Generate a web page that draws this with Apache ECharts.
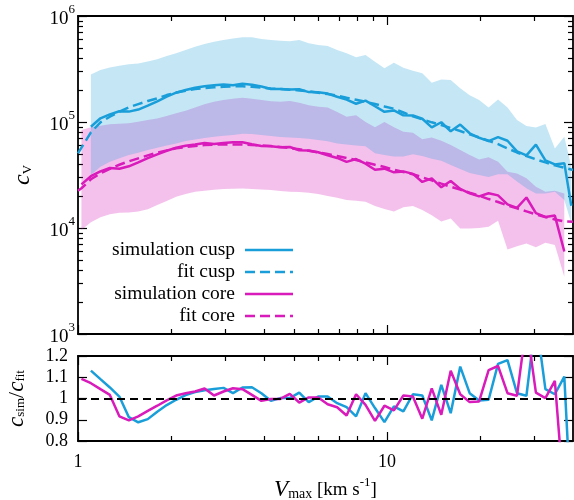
<!DOCTYPE html>
<html>
<head>
<meta charset="utf-8">
<script src="https://cdn.jsdelivr.net/npm/echarts@6/dist/echarts.min.js"></script>
<style>
  html, body { margin: 0; padding: 0; background: #fff; }
  #chart { width: 574px; height: 500px; }
</style>
</head>
<body>
<div id="chart"></div>
<script>
// bin centres in Vmax [km/s]
const vmaxBins = [1.026,1.101,1.182,1.268,1.361,1.461,1.567,1.682,1.805,1.937,2.078,2.230,2.393,2.568,2.756,2.958,3.174,3.406,3.655,3.922,4.209,4.516,4.847,5.200,5.581,5.989,6.427,6.897,7.401,7.943,8.522,9.145,9.813,10.53,11.30,12.13,13.01,13.96,14.99,16.08,17.26,18.52,19.87,21.33,22.88,24.55,26.35,28.27,30.34,32.56,34.94,37.49,39.5];
const coreX = vmaxBins.slice(0, 52);
const cuspX = vmaxBins.slice(1);
const fitX = [1].concat(coreX, [40]);

// cusp
const cuspSim = [9.03e4,1.084e5,1.18e5,1.262e5,1.253e5,1.31e5,1.425e5,1.567e5,1.738e5,1.89e5,2.004e5,2.108e5,2.172e5,2.218e5,2.26e5,2.223e5,2.296e5,2.25e5,2.163e5,2.051e5,2.051e5,2.023e5,2.042e5,1.914e5,1.905e5,1.854e5,1.73e5,1.625e5,1.486e5,1.592e5,1.409e5,1.247e5,1.285e5,1.156e5,1.153e5,1.074e5,8.91e4,9.95e4,8.17e4,9.46e4,7.83e4,7.1e4,6.61e4,7.21e4,6.65e4,5.29e4,4.84e4,6.12e4,4.34e4,3.98e4,4.09e4,1.62e4];
const cuspFit = [5.06e4,5.73e4,7.98e4,9.93e4,1.122e5,1.25e5,1.374e5,1.476e5,1.578e5,1.671e5,1.795e5,1.901e5,1.972e5,2.046e5,2.089e5,2.123e5,2.153e5,2.168e5,2.175e5,2.15e5,2.109e5,2.075e5,2.046e5,2.018e5,1.986e5,1.945e5,1.888e5,1.837e5,1.77e5,1.694e5,1.622e5,1.552e5,1.476e5,1.403e5,1.334e5,1.23e5,1.13e5,1.059e5,9.93e4,9.36e4,8.77e4,8.22e4,7.64e4,7.16e4,6.65e4,6.19e4,5.64e4,5.16e4,4.78e4,4.44e4,4.16e4,3.9e4,3.71e4,3.52e4];
const cuspHi = [2.81e5,3.09e5,3.27e5,3.4e5,3.5e5,3.57e5,3.73e5,3.9e5,4.19e5,4.45e5,4.78e5,5.13e5,5.44e5,5.72e5,5.93e5,6.15e5,6.29e5,6.29e5,6.07e5,5.93e5,5.85e5,5.77e5,5.93e5,5.52e5,5.32e5,5.21e5,4.78e5,4.45e5,4.08e5,4.29e5,3.71e5,3.21e5,3.63e5,3.25e5,3.05e5,2.88e5,2.35e5,2.52e5,2.49e5,2.08e5,1.79e5,1.61e5,1.37e5,1.63e5,1.37e5,1.045e5,9.16e4,8.89e4,9.58e4,5.63e4,7.27e4,3.79e4];
const cuspLo = [3.16e4,3.79e4,4.22e4,4.54e4,4.88e4,5.13e4,5.44e4,5.72e4,6.01e4,6.28e4,6.61e4,6.85e4,7.06e4,7.27e4,7.43e4,7.54e4,7.76e4,7.7e4,7.54e4,7.38e4,7.2e4,7.15e4,7.06e4,6.95e4,6.76e4,6.57e4,6.28e4,6.14e4,6.01e4,5.92e4,5.06e4,4.88e4,4.72e4,4.72e4,4.95e4,4.77e4,4.5e4,4.31e4,3.92e4,3.6e4,3.31e4,3.17e4,3.03e4,3.22e4,3.22e4,2.74e4,2.37e4,2.12e4,2.12e4,2.2e4,1.84e4,1.11e4];
const cuspRatio = [1.131,1.091,1.052,1.009,0.912,0.888,0.903,0.938,0.969,0.994,1.016,1.03,1.039,1.045,1.05,1.025,1.052,1.053,1.025,0.989,1.002,1.002,1.028,0.983,1.009,1.009,0.978,0.959,0.916,1.025,0.955,0.889,0.963,0.939,1.02,1.014,0.897,1.064,0.931,1.15,1.025,0.991,0.994,1.163,1.181,1.025,1.013,1.38,1.044,1.02,1.103,0.46];

// core
const coreSim = [2.58e4,3.08e4,3.42e4,3.68e4,3.62e4,3.82e4,4.16e4,4.56e4,4.95e4,5.35e4,5.71e4,5.96e4,6.12e4,6.35e4,6.19e4,6.35e4,6.44e4,6.43e4,6.17e4,5.94e4,5.92e4,5.79e4,5.81e4,5.42e4,5.38e4,5.19e4,4.85e4,4.58e4,4.21e4,4.47e4,4.04e4,3.54e4,3.63e4,3.35e4,3.42e4,3.24e4,2.72e4,2.94e4,2.42e4,2.78e4,2.34e4,2.12e4,1.99e4,2.13e4,2.03e4,1.67e4,1.55e4,1.94e4,1.38e4,1.27e4,1.31e4,6.0e3];
const coreFit = [2.25e4,2.37e4,2.88e4,3.27e4,3.62e4,3.95e4,4.26e4,4.54e4,4.84e4,5.13e4,5.4e4,5.64e4,5.81e4,5.93e4,6.07e4,6.11e4,6.15e4,6.15e4,6.15e4,6.07e4,6.01e4,5.93e4,5.81e4,5.68e4,5.52e4,5.36e4,5.16e4,4.99e4,4.78e4,4.57e4,4.38e4,4.16e4,3.95e4,3.76e4,3.55e4,3.37e4,3.21e4,3.01e4,2.81e4,2.62e4,2.45e4,2.3e4,2.15e4,2.02e4,1.875e4,1.76e4,1.633e4,1.531e4,1.435e4,1.343e4,1.268e4,1.205e4,1.153e4,1.145e4];
const coreHi = [8.4e4,8.9e4,9.22e4,9.5e4,9.64e4,9.71e4,1.007e5,1.045e5,1.08e5,1.14e5,1.21e5,1.28e5,1.37e5,1.47e5,1.55e5,1.61e5,1.66e5,1.69e5,1.66e5,1.61e5,1.57e5,1.55e5,1.58e5,1.52e5,1.44e5,1.39e5,1.37e5,1.24e5,1.12e5,1.16e5,1.0e5,8.9e4,1.0e5,8.9e4,8.1e4,7.93e4,6.86e4,7.16e4,6.66e4,6.06e4,5.44e4,4.88e4,4.44e4,4.64e4,4.22e4,3.4e4,3.27e4,2.94e4,2.45e4,2.2e4,2.25e4,2.12e4];
const coreLo = [9.57e3,1.13e4,1.26e4,1.35e4,1.39e4,1.4e4,1.43e4,1.5e4,1.65e4,1.8e4,1.97e4,2.09e4,2.2e4,2.25e4,2.3e4,2.33e4,2.35e4,2.36e4,2.33e4,2.31e4,2.28e4,2.23e4,2.2e4,2.18e4,2.15e4,2.09e4,2.0e4,1.93e4,1.84e4,1.81e4,1.77e4,1.61e4,1.51e4,1.43e4,1.57e4,1.61e4,1.48e4,1.32e4,1.15e4,1.23e4,9.9e3,9.9e3,1.0e4,1.03e4,1.17e4,6.28e3,6.74e3,7.15e3,6.57e3,7.25e3,6.9e3,3.47e3];
const coreRatio = [1.092,1.072,1.044,1.017,0.916,0.897,0.916,0.942,0.966,0.991,1.014,1.025,1.033,1.047,1.014,1.033,1.048,1.044,1.017,0.989,0.998,0.998,1.022,0.981,1.005,1.005,0.973,0.959,0.92,1.02,0.97,0.895,0.966,0.944,1.014,1.009,0.905,1.048,0.923,1.131,1.02,0.983,0.986,1.134,1.153,1.025,1.013,1.35,1.028,1.002,1.083,0.52];

// ticks
const xMajorTicks = [1, 10];
const xMinorTicks = [2, 3, 4, 5, 6, 7, 8, 9, 20, 30];
const yMajorTicks = [1e3, 1e4, 1e5, 1e6];
const yMinorTicks = [2e3,3e3,4e3,5e3,6e3,7e3,8e3,9e3,2e4,3e4,4e4,5e4,6e4,7e4,8e4,9e4,2e5,3e5,4e5,5e5,6e5,7e5,8e5,9e5];
const ratioTicks = [0.8, 0.9, 1, 1.1, 1.2];

const FONT = 'Liberation Serif';
const CYAN = '#1a9ed9';
const MAGENTA = '#d81bba';
const CYAN_BAND = 'rgba(26,158,217,0.26)';
const MAGENTA_BAND = 'rgba(216,27,186,0.27)';
const DASH = [10, 5];

function xAxis(grid, pos, ticks, major, labels, name) {
  return {
    type: 'log', logBase: 10, gridIndex: grid, position: pos, min: 1, max: 40,
    axisLine: { show: major, onZero: false, lineStyle: { color: '#000', width: 1.8 } },
    axisTick: { show: true, inside: true, length: major ? 9 : 5, customValues: ticks,
      lineStyle: { color: '#000', width: 1.2 } },
    axisLabel: { show: labels, customValues: xMajorTicks, margin: 12,
      fontFamily: FONT, fontSize: 18, color: '#000' },
    splitLine: { show: false },
    name: name || '', nameLocation: 'middle', nameGap: 34,
    nameTextStyle: { color: '#000', rich: {
      v: { fontFamily: FONT, fontStyle: 'italic', fontSize: 23, lineHeight: 30 },
      s: { fontFamily: FONT, fontSize: 14, lineHeight: 30, padding: [9, 0, 0, 0] },
      n: { fontFamily: FONT, fontSize: 19, lineHeight: 30 },
      p: { fontFamily: FONT, fontSize: 13, lineHeight: 30, padding: [0, 0, 14, 0] }
    } }
  };
}

function logYAxis(pos, ticks, major, labels) {
  return {
    type: 'log', logBase: 10, gridIndex: 0, position: pos, min: 1e3, max: 1e6,
    axisLine: { show: major, onZero: false, lineStyle: { color: '#000', width: 1.8 } },
    axisTick: { show: true, inside: true, length: major ? 9 : 5, customValues: ticks,
      lineStyle: { color: '#000', width: 1.2 } },
    axisLabel: { show: labels, customValues: yMajorTicks, margin: 3,
      formatter: v => '{b|10}{s|' + Math.round(Math.log10(v)) + '}',
      rich: {
        b: { fontFamily: FONT, fontSize: 19, color: '#000', lineHeight: 26, verticalAlign: 'bottom' },
        s: { fontFamily: FONT, fontSize: 13, color: '#000', lineHeight: 12, verticalAlign: 'top' }
      } },
    splitLine: { show: false },
    name: labels ? '{c|c}{v|V}' : '', nameLocation: 'middle', nameRotate: 90, nameGap: 40,
    nameTextStyle: { color: '#000', rich: {
      c: { fontFamily: FONT, fontStyle: 'italic', fontSize: 24, lineHeight: 30 },
      v: { fontFamily: FONT, fontSize: 13, lineHeight: 30, padding: [9, 0, 0, 0] }
    } }
  };
}

function ratioYAxis(pos, labels) {
  return {
    type: 'value', gridIndex: 1, position: pos, min: 0.8, max: 1.2, interval: 0.1,
    axisLine: { show: true, onZero: false, lineStyle: { color: '#000', width: 1.8 } },
    axisTick: { show: true, inside: true, length: 9, customValues: ratioTicks,
      lineStyle: { color: '#000', width: 1.2 } },
    axisLabel: { show: labels, margin: 10, fontFamily: FONT, fontSize: 18, color: '#000',
      formatter: v => (Math.abs(v - 1) < 1e-9 ? '1' : v.toFixed(1)) },
    splitLine: { show: false },
    name: labels ? '{c|c}{s|sim}{n|/}{c|c}{s|fit}' : '', nameLocation: 'middle', nameRotate: 90, nameGap: 46,
    nameTextStyle: { color: '#000', rich: {
      c: { fontFamily: FONT, fontStyle: 'italic', fontSize: 23, lineHeight: 30 },
      n: { fontFamily: FONT, fontSize: 22, lineHeight: 30 },
      s: { fontFamily: FONT, fontSize: 13, lineHeight: 30, padding: [8, 0, 0, 0] }
    } }
  };
}

function band(xs, lo, hi, color) {
  return {
    type: 'custom', xAxisIndex: 0, yAxisIndex: 0, silent: true, clip: true,
    data: xs.map((x, k) => [x, lo[k], hi[k]]),
    encode: { x: 0, y: [1, 2] },
    renderItem: function (params, api) {
      if (params.dataIndex !== 0) return null;
      const pts = [];
      for (let k = 0; k < xs.length; k++) pts.push(api.coord([xs[k], hi[k]]));
      for (let k = xs.length - 1; k >= 0; k--) pts.push(api.coord([xs[k], lo[k]]));
      return { type: 'polygon', shape: { points: pts }, style: { fill: color } };
    }
  };
}

function line(xs, ys, color, dashed, xi, yi) {
  return {
    type: 'line', xAxisIndex: xi, yAxisIndex: yi, symbol: 'none', silent: true,
    data: xs.map((x, k) => [x, ys[k]]),
    lineStyle: { color: color, width: 2.5, type: dashed ? DASH : 'solid' }
  };
}

const legendRows = [
  ['simulation cusp', CYAN, false, 250],
  ['fit cusp', CYAN, true, 272],
  ['simulation core', MAGENTA, false, 294],
  ['fit core', MAGENTA, true, 316]
];
const legendGraphic = [];
legendRows.forEach(r => {
  legendGraphic.push({ type: 'text', x: 235, y: r[3],
    style: { text: r[0], font: '19.5px "' + FONT + '"', fill: '#000', textAlign: 'right', textVerticalAlign: 'middle' } });
  legendGraphic.push({ type: 'line', shape: { x1: 245, y1: r[3], x2: 293, y2: r[3] },
    style: { stroke: r[1], lineWidth: 2.5, lineDash: r[2] ? DASH : null } });
});

const chart = echarts.init(document.getElementById('chart'), null, { renderer: 'canvas' });
chart.setOption({
  animation: false,
  backgroundColor: '#fff',
  grid: [
    { left: 78, right: 1, top: 16, height: 318, containLabel: false, outerBoundsMode: 'none' },
    { left: 78, right: 1, top: 356, height: 85, containLabel: false, outerBoundsMode: 'none' }
  ],
  xAxis: [
    xAxis(0, 'bottom', xMajorTicks, true, false),
    xAxis(0, 'bottom', xMinorTicks, false, false),
    xAxis(0, 'top', xMajorTicks, true, false),
    xAxis(0, 'top', xMinorTicks, false, false),
    xAxis(1, 'bottom', xMajorTicks, true, true, '{v|V}{s|max}{n| [km s}{p|-1}{n|]}'),
    xAxis(1, 'bottom', xMinorTicks, false, false),
    xAxis(1, 'top', xMajorTicks, true, false),
    xAxis(1, 'top', xMinorTicks, false, false)
  ],
  yAxis: [
    logYAxis('left', yMajorTicks, true, true),
    logYAxis('left', yMinorTicks, false, false),
    logYAxis('right', yMajorTicks, true, false),
    logYAxis('right', yMinorTicks, false, false),
    ratioYAxis('left', true),
    ratioYAxis('right', false)
  ],
  graphic: legendGraphic,
  series: [
    band(coreX, coreLo, coreHi, MAGENTA_BAND),
    band(cuspX, cuspLo, cuspHi, CYAN_BAND),
    line(cuspX, cuspSim, CYAN, false, 0, 0),
    line(fitX, cuspFit, CYAN, true, 0, 0),
    line(coreX, coreSim, MAGENTA, false, 0, 0),
    line(fitX, coreFit, MAGENTA, true, 0, 0),
    Object.assign(line(cuspX, cuspRatio, CYAN, false, 4, 4), {
      markLine: { silent: true, symbol: 'none', label: { show: false },
        lineStyle: { color: '#000', width: 2, type: [8, 5] },
        data: [{ yAxis: 1 }] }
    }),
    line(coreX, coreRatio, MAGENTA, false, 4, 4)
  ]
});
</script>
</body>
</html>
